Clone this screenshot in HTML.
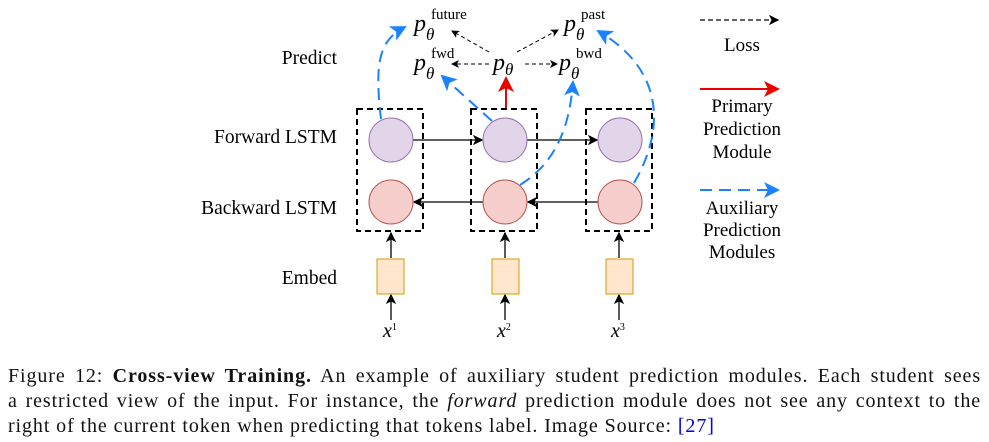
<!DOCTYPE html>
<html><head><meta charset="utf-8"><style>
body{margin:0;background:#fff;width:989px;height:442px;overflow:hidden;font-family:"Liberation Serif",serif;}
svg{position:absolute;left:0;top:0}
.cap{position:absolute;left:8px;top:364px;width:973px;font-size:20px;letter-spacing:0.9px;line-height:25px;color:#111;}
.cap div{text-align:justify;text-align-last:justify;white-space:nowrap;}
.cap div.last{text-align-last:left;}
</style></head><body>
<svg width="989" height="360">
<defs>
<marker id="ak" markerWidth="8" markerHeight="8" refX="7" refY="4" orient="auto"><path d="M0,0 L8,4 L0,8 L2,4z" fill="#000"/></marker>
<marker id="ar" markerWidth="8" markerHeight="8" refX="7" refY="4" orient="auto"><path d="M0,0 L8,4 L0,8 L2,4z" fill="#e00"/></marker>
<marker id="ab" markerWidth="8" markerHeight="8" refX="7" refY="4" orient="auto"><path d="M0,0 L8,4 L0,8 L2,4z" fill="#1a82ff"/></marker>
</defs>
<g font-size="19.5" fill="#000" text-anchor="end" font-family="Liberation Serif,serif">
<text x="337" y="64">Predict</text>
<text x="337" y="143">Forward LSTM</text>
<text x="337" y="214">Backward LSTM</text>
<text x="337" y="284">Embed</text>
</g>
<g fill="none" stroke="#000" stroke-width="2" stroke-dasharray="6,4">
<rect x="357" y="109" width="66" height="122"/>
<rect x="471" y="109" width="66" height="122"/>
<rect x="586" y="109" width="66" height="122"/>
</g>
<g stroke="#000" stroke-width="1.3" marker-end="url(#ak)">
<line x1="413" y1="140" x2="482" y2="140"/><line x1="527" y1="140" x2="597" y2="140"/>
<line x1="598" y1="202" x2="528" y2="202"/><line x1="483" y1="202" x2="414" y2="202"/>
<line x1="391" y1="258" x2="391" y2="233"/><line x1="505" y1="258" x2="505" y2="233"/><line x1="619" y1="258" x2="619" y2="233"/>
<line x1="391" y1="320" x2="391" y2="295"/><line x1="505" y1="320" x2="505" y2="295"/><line x1="619" y1="320" x2="619" y2="295"/>
</g>
<g stroke="#9a6fb0" fill="#e2d5e9" stroke-width="1">
<circle cx="391" cy="140" r="22"/>
<circle cx="505" cy="140" r="22"/>
<circle cx="620" cy="140" r="22"/>
</g>
<g stroke="#b85450" fill="#f6cecc" stroke-width="1">
<circle cx="391" cy="202" r="22"/>
<circle cx="505" cy="202" r="22"/>
<circle cx="620" cy="202" r="22"/>
</g>
<g stroke="#d79b00" fill="#ffe6cc" stroke-width="1">
<rect x="377" y="259" width="27" height="35"/>
<rect x="492" y="259" width="27" height="35"/>
<rect x="606" y="259" width="27" height="35"/>
</g>
<g font-style="italic" font-size="20" font-family="Liberation Serif,serif">
<text x="383" y="337">x<tspan font-size="10" dy="-7" font-style="normal">1</tspan></text>
<text x="497" y="337">x<tspan font-size="10" dy="-7" font-style="normal">2</tspan></text>
<text x="611" y="337">x<tspan font-size="10" dy="-7" font-style="normal">3</tspan></text>
</g>
<line x1="506" y1="108" x2="506" y2="78" stroke="#e00" stroke-width="2" marker-end="url(#ar)"/>
<g stroke="#000" stroke-width="1" stroke-dasharray="4,3" marker-end="url(#ak)">
<line x1="489" y1="64" x2="452" y2="64"/><line x1="525" y1="64" x2="557" y2="64"/>
<line x1="489" y1="52" x2="452" y2="31"/><line x1="517" y1="52" x2="558" y2="30"/>
</g>
<g font-family="Liberation Serif,serif" font-style="italic" font-size="24">
<text x="414" y="31">p</text><text x="426" y="40" font-size="17">θ</text><text x="431" y="19" font-size="15" font-style="normal">future</text>
<text x="564" y="31">p</text><text x="576" y="40" font-size="17">θ</text><text x="581" y="19" font-size="15" font-style="normal">past</text>
<text x="414" y="70">p</text><text x="426" y="79" font-size="17">θ</text><text x="431" y="58" font-size="15" font-style="normal">fwd</text>
<text x="493" y="70">p</text><text x="505" y="75" font-size="17">θ</text>
<text x="559" y="70">p</text><text x="571" y="79" font-size="17">θ</text><text x="576" y="58" font-size="15" font-style="normal">bwd</text>
</g>
<g fill="none" stroke="#1a82ff" stroke-width="2" stroke-dasharray="12,7" marker-end="url(#ab)">
<path d="M381,119 C374,60 380,40 405,27"/>
<path d="M492,121 L442,76"/>
<path d="M520,185 C560,160 570,120 573,82"/>
<path d="M634,183 C665,130 665,70 598,31"/>
<line x1="700" y1="190" x2="778" y2="190"/>
</g>
<line x1="700" y1="20" x2="778" y2="20" stroke="#000" stroke-width="1.3" stroke-dasharray="5,3" marker-end="url(#ak)"/>
<line x1="700" y1="89" x2="778" y2="89" stroke="#e00" stroke-width="2" marker-end="url(#ar)"/>
<g font-size="19" text-anchor="middle" font-family="Liberation Serif,serif">
<text x="742" y="51">Loss</text>
<text x="742" y="112">Primary</text><text x="742" y="135">Prediction</text><text x="742" y="158">Module</text>
<text x="742" y="214">Auxiliary</text><text x="742" y="236">Prediction</text><text x="742" y="258">Modules</text>
</g>
</svg>
<div class="cap">
<div>Figure 12: <b>Cross-view Training.</b> An example of auxiliary student prediction modules. Each student sees</div>
<div>a restricted view of the input. For instance, the <i>forward</i> prediction module does not see any context to the</div>
<div class="last">right of the current token when predicting that tokens label. Image Source: <span style="color:#00e">[27]</span></div>
</div>
</body></html>
